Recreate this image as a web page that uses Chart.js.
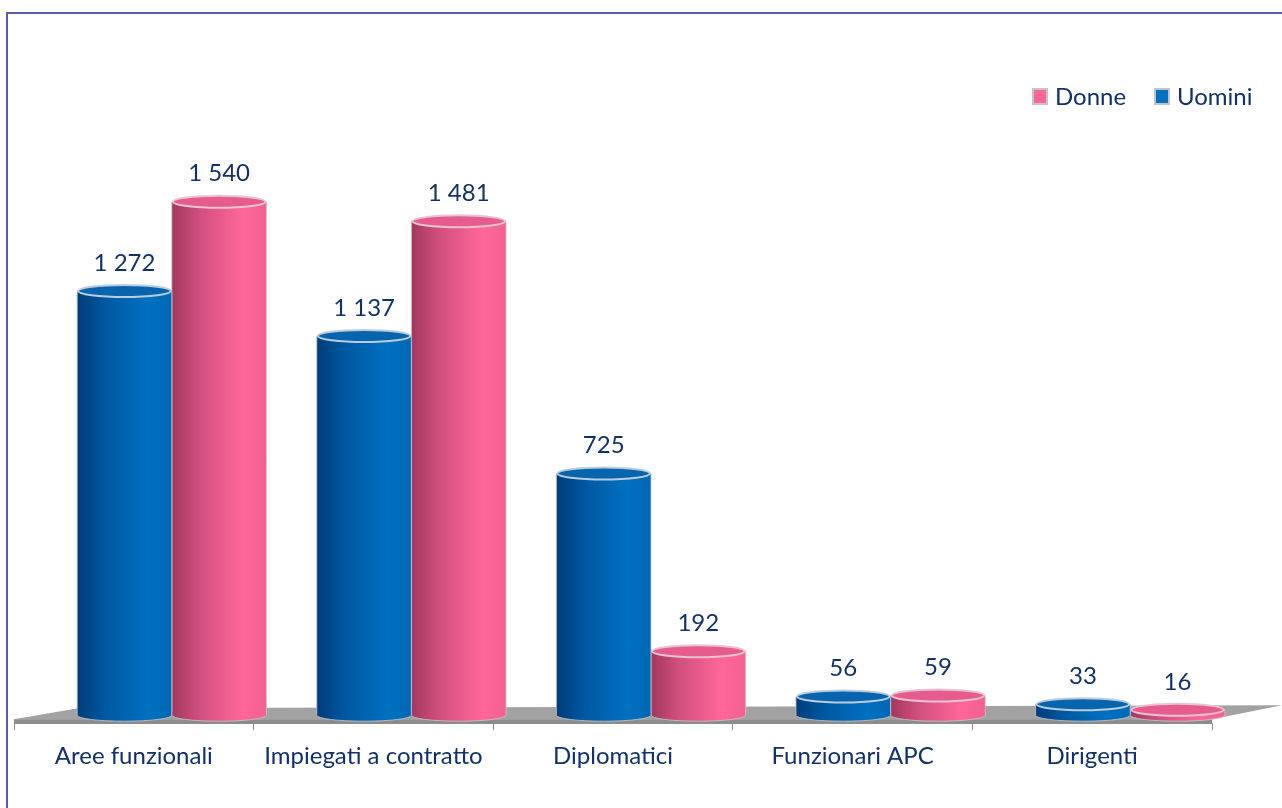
<!DOCTYPE html>
<html>
<head>
<meta charset="utf-8">
<script src="https://cdn.jsdelivr.net/npm/chart.js@4/dist/chart.umd.min.js"></script>
<style>
    html, body { margin: 0; padding: 0; background: #fff; }
</style>
</head>
<body>
<canvas id="barChart" width="1282" height="808"></canvas>
<script>
// data
var categories = ['Aree funzionali', 'Impiegati a contratto', 'Diplomatici', 'Funzionari APC', 'Dirigenti'];
var uomini = [1272, 1137, 725, 56, 33];
var donne = [1540, 1481, 192, 59, 16];
var seriesNames = ['Uomini', 'Donne'];
var yMax = 1800;

var textColor = '#13306a';
var fontFamily = 'Lato, "Open Sans", sans-serif';

// colours for each series: [dark side, mid, light, edge]
var palette = {
    Uomini: { legend: '#0070c0', stops: ['#003c78', '#0058a2', '#0070c0', '#0068b4'], top: '#0865ad', rim: '#b9cde0' },
    Donne: { legend: '#ff6699', stops: ['#a3375e', '#d2507f', '#ff6699', '#f26190'], top: '#e65c8e', rim: '#e8c4d2' }
};

var shiftX = 38, shiftY = -8, ry = 6;

// frame, floor and 3D cylinders
var cylinderPlugin = {
    id: 'cylinders',
    beforeDraw: function (chart) {
        var ctx = chart.ctx;
        ctx.save();
        ctx.strokeStyle = '#5b5db0';
        ctx.lineWidth = 2;
        ctx.beginPath();
        ctx.moveTo(7, 820);
        ctx.lineTo(7, 13);
        ctx.lineTo(1290, 13);
        ctx.stroke();
        ctx.restore();
    },
    beforeDatasetsDraw: function (chart) {
        var ctx = chart.ctx, a = chart.chartArea;
        var b = a.bottom;
        ctx.save();
        // floor top face
        ctx.fillStyle = '#a2a2a2';
        ctx.beginPath();
        ctx.moveTo(a.left, b - 4);
        ctx.lineTo(a.left + 64, b - 15);
        ctx.lineTo(a.right + 70, b - 18);
        ctx.lineTo(a.right, b - 4);
        ctx.closePath();
        ctx.fill();
        // floor front edge
        ctx.fillStyle = '#8c8c8c';
        ctx.fillRect(a.left, b - 4, a.right - a.left, 4);
        ctx.restore();
    },
    beforeDatasetDraw: function (chart, args) {
        var ctx = chart.ctx;
        var meta = args.meta;
        var name = chart.data.datasets[args.index].label;
        var p = palette[name];
        ctx.save();
        ctx.translate(shiftX, shiftY);
        meta.data.forEach(function (el) {
            var rx = el.width / 2;
            var x = el.x, top = el.y, base = el.base;
            var g = ctx.createLinearGradient(x - rx, 0, x + rx, 0);
            g.addColorStop(0, p.stops[0]);
            g.addColorStop(0.3, p.stops[1]);
            g.addColorStop(0.75, p.stops[2]);
            g.addColorStop(1, p.stops[3]);
            // body
            ctx.beginPath();
            ctx.moveTo(x - rx, top);
            ctx.lineTo(x - rx, base);
            ctx.ellipse(x, base, rx, ry, 0, Math.PI, 0, true);
            ctx.lineTo(x + rx, top);
            ctx.closePath();
            ctx.fillStyle = g;
            ctx.fill();
            ctx.strokeStyle = 'rgba(200,200,200,0.8)';
            ctx.lineWidth = 1;
            ctx.stroke();
            // top face
            ctx.beginPath();
            ctx.ellipse(x, top, rx - 1, ry, 0, 0, Math.PI * 2);
            ctx.fillStyle = p.top;
            ctx.fill();
            ctx.strokeStyle = p.rim;
            ctx.lineWidth = 2;
            ctx.stroke();
        });
        // value labels
        ctx.fillStyle = textColor;
        ctx.font = '24px ' + fontFamily;
        ctx.textAlign = 'center';
        ctx.textBaseline = 'middle';
        var values = chart.data.datasets[args.index].data;
        meta.data.forEach(function (el, i) {
            var s = String(values[i]).replace(/\B(?=(\d{3})+(?!\d))/g, ' ');
            ctx.fillText(s, el.x, el.y - ry - 22);
        });
        ctx.restore();
        return false;
    },
    afterDraw: function (chart) {
        // legend, Donne first
        var ctx = chart.ctx;
        var items = chart.data.datasets.slice().reverse();
        var xs = [1032, 1154];
        ctx.save();
        ctx.font = '24px ' + fontFamily;
        ctx.textBaseline = 'middle';
        ctx.textAlign = 'left';
        items.forEach(function (ds, i) {
            var x = xs[i];
            ctx.fillStyle = '#c4c4c4';
            ctx.fillRect(x, 88, 16, 17);
            ctx.fillStyle = palette[ds.label].legend;
            ctx.fillRect(x + 2, 90, 12, 13);
            ctx.fillStyle = textColor;
            ctx.fillText(ds.label, x + 23, 97);
        });
        ctx.restore();
    }
};

var ctx = document.getElementById('barChart');
var chart = new Chart(ctx, {
    type: 'bar',
    data: {
        labels: categories,
        datasets: [{
            label: seriesNames[0],
            data: uomini,
            backgroundColor: '#0070c0'
        }, {
            label: seriesNames[1],
            data: donne,
            backgroundColor: '#ff6699'
        }]
    },
    options: {
        responsive: false,
        animation: false,
        layout: {
            padding: { top: 123, left: 14, right: 70, bottom: 25 }
        },
        datasets: {
            bar: { barPercentage: 1, categoryPercentage: 0.79 }
        },
        plugins: {
            legend: { display: false },
            tooltip: { enabled: false }
        },
        scales: {
            x: {
                grid: {
                    display: true,
                    offset: true,
                    drawOnChartArea: false,
                    drawTicks: true,
                    tickLength: 7,
                    color: '#8c8c8c'
                },
                border: { display: true, color: '#8c8c8c' },
                ticks: {
                    color: textColor,
                    font: { family: fontFamily, size: 24 },
                    padding: 12,
                    maxRotation: 0
                }
            },
            y: {
                display: false,
                min: 0,
                max: yMax
            }
        }
    },
    plugins: [cylinderPlugin]
});
</script>
</body>
</html>
